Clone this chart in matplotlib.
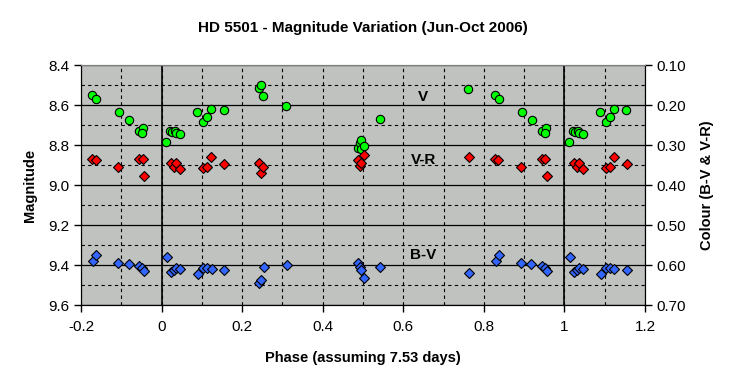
import numpy as np
import matplotlib
matplotlib.use('Agg')
import matplotlib.pyplot as plt
from matplotlib.ticker import MultipleLocator

plt.rcParams['font.family'] = ['Liberation Sans', 'DejaVu Sans']

# fase (0-1) e valores
v_phase = [0.012, 0.022, 0.027, 0.033, 0.037, 0.045, 0.089, 0.102, 0.112, 0.122,
           0.154, 0.241, 0.247, 0.251, 0.310, 0.487, 0.492, 0.494, 0.495, 0.502,
           0.541, 0.761, 0.828, 0.837, 0.894, 0.919, 0.944, 0.955, 0.952]
v_mag = [8.783, 8.732, 8.735, 8.731, 8.738, 8.743, 8.633, 8.683, 8.658, 8.618,
         8.623, 8.513, 8.502, 8.553, 8.603, 8.817, 8.790, 8.775, 8.820, 8.803,
         8.670, 8.518, 8.552, 8.568, 8.633, 8.673, 8.728, 8.713, 8.740]

vr_phase = [0.024, 0.030, 0.036, 0.046, 0.102, 0.112, 0.123, 0.155, 0.242, 0.247,
            0.252, 0.488, 0.493, 0.496, 0.503, 0.763, 0.828, 0.836, 0.892, 0.944,
            0.953, 0.956]
vr_col = [0.346, 0.354, 0.346, 0.360, 0.358, 0.355, 0.330, 0.347, 0.345, 0.371,
          0.356, 0.3375, 0.352, 0.346, 0.326, 0.329, 0.335, 0.338, 0.356, 0.336,
          0.336, 0.378]

bv_phase = [0.013, 0.024, 0.030, 0.036, 0.046, 0.091, 0.102, 0.113, 0.124, 0.156,
            0.242, 0.247, 0.253, 0.312, 0.488, 0.492, 0.496, 0.502, 0.542, 0.763,
            0.829, 0.837, 0.893, 0.918, 0.945, 0.952, 0.956]
bv_col = [0.581, 0.618, 0.612, 0.607, 0.611, 0.623, 0.607, 0.607, 0.611, 0.613,
          0.644, 0.6375, 0.606, 0.601, 0.595, 0.604, 0.6125, 0.633, 0.605, 0.621,
          0.590, 0.575, 0.595, 0.598, 0.6025, 0.608, 0.614]

x_ticks = [-0.2, 0, 0.2, 0.4, 0.6, 0.8, 1.0, 1.2]
x_labels = ['-0.2', '0', '0.2', '0.4', '0.6', '0.8', '1', '1.2']


def desdobra(phase, vals, lo=-0.2, hi=1.2):
    # repete a fase em -1 e +1 para cobrir o intervalo do eixo
    p = np.asarray(phase)
    v = np.asarray(vals)
    ps = np.concatenate([p - 1, p, p + 1])
    vs = np.concatenate([v, v, v])
    ok = (ps >= lo) & (ps <= hi)
    return ps[ok], vs[ok]


fig = plt.figure(figsize=(7.48, 3.84), dpi=100)
ax = fig.add_axes([0.1083, 0.2057, 0.754, 0.625])
ax.set_facecolor('#c0c2c0')

ax.set_xlim(-0.2, 1.2)
ax.set_ylim(9.6, 8.4)
ax.set_xticks(x_ticks)
ax.set_xticklabels(x_labels)
ax.xaxis.set_minor_locator(MultipleLocator(0.1))
ax.yaxis.set_major_locator(MultipleLocator(0.2))
ax.yaxis.set_minor_locator(MultipleLocator(0.1))
ax.yaxis.set_major_formatter(matplotlib.ticker.FormatStrFormatter('%.1f'))

ax.grid(which='both', axis='x', color='black', linestyle=(0, (3, 3)), lw=0.8)
ax.grid(which='major', axis='y', color='black', linestyle='-', lw=0.9)
ax.grid(which='minor', axis='y', color='black', linestyle=(0, (3, 3)), lw=0.8)
ax.tick_params(which='minor', length=0)
ax.tick_params(which='major', direction='out', length=5, labelsize=11, width=1)
ax.tick_params(axis='x', pad=6)
ax.set_axisbelow(True)
ax.axvline(0, color='black', lw=1.2, zorder=1.5)
ax.axvline(1.0, color='black', lw=1.2, zorder=1.5)
ax.spines['top'].set_color('#808080')

x, y = desdobra(v_phase, v_mag)
ax.plot(x, y, 'o', color='#00ff00', mec='black', mew=0.8, ms=6, zorder=3)

ax.text(0.65, 8.56, 'V', fontsize=11, fontweight='bold', ha='center', va='center')
ax.text(0.65, 8.875, 'V-R', fontsize=11, fontweight='bold', ha='center', va='center')
ax.text(0.65, 9.35, 'B-V', fontsize=11, fontweight='bold', ha='center', va='center')

ax.set_xlabel('Phase (assuming 7.53 days)', fontsize=10.5, fontweight='bold', labelpad=12)
ax.set_ylabel('Magnitude', fontsize=10.5, fontweight='bold', labelpad=8)
ax.set_title('HD 5501 - Magnitude Variation (Jun-Oct 2006)', fontsize=11,
             fontweight='bold', pad=24)

ax2 = ax.twinx()
ax2.set_ylim(0.70, 0.10)
ax2.yaxis.set_major_locator(MultipleLocator(0.1))
ax2.yaxis.set_major_formatter(matplotlib.ticker.FormatStrFormatter('%.2f'))
ax2.tick_params(direction='out', length=5, labelsize=11, width=1)
ax2.spines['top'].set_color('#808080')

x, y = desdobra(vr_phase, vr_col)
ax2.plot(x, y, 'D', color='#ff0000', mec='black', mew=0.8, ms=5.5, zorder=3)
x, y = desdobra(bv_phase, bv_col)
ax2.plot(x, y, 'D', color='#3366ff', mec='black', mew=0.8, ms=5.5, zorder=3)
ax2.set_ylabel('Colour (B-V & V-R)', fontsize=10.5, fontweight='bold', labelpad=10)

fig.savefig('out.png', dpi=100)
